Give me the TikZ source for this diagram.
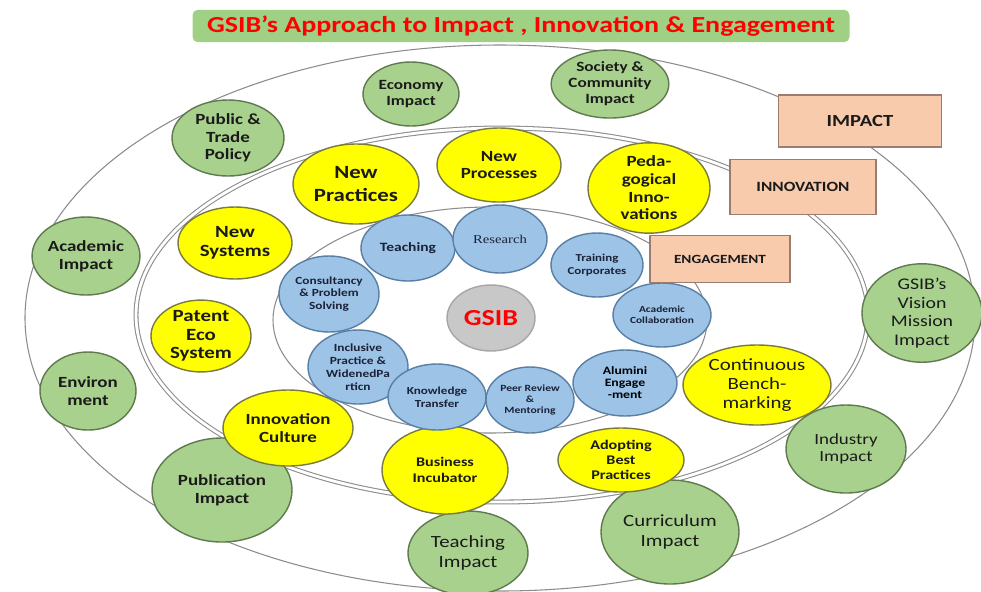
\documentclass[tikz,border=0pt]{standalone}
\usepackage{fontspec}
\setmainfont{Carlito}[FakeStretch=1.22]
\newfontfamily\serifFont{Liberation Serif}[FakeStretch=1.22]
\usetikzlibrary{shapes.geometric}

\definecolor{titleGreen}{HTML}{A0D083}
\definecolor{titleRed}{HTML}{FF0000}
\definecolor{impactFill}{HTML}{A9D18E}
\definecolor{impactLine}{HTML}{5F7A4E}
\definecolor{innoFill}{HTML}{FFFF00}
\definecolor{innoLine}{HTML}{7A7A40}
\definecolor{engFill}{HTML}{9DC3E6}
\definecolor{engLine}{HTML}{5A7FA5}
\definecolor{coreFill}{HTML}{C8C8C8}
\definecolor{coreLine}{HTML}{A6A6A6}
\definecolor{tagFill}{HTML}{F8CBAD}
\definecolor{tagLine}{HTML}{9C7C70}
\definecolor{ringGray}{HTML}{8C8C8C}
\definecolor{textDark}{HTML}{1A1A1A}
\definecolor{textNavy}{HTML}{1A2238}

\newcommand{\nodeFont}[2]{\fontsize{#1}{#2}\selectfont}

\tikzset{
    ring/.style={draw=ringGray,line width=0.6pt},
    bubble/.style 2 args={ellipse,inner sep=0pt,align=center,line width=0.8pt,
        minimum width=#1*0.567pt,minimum height=#2*0.567pt},
    impactNode/.style={draw=impactLine,fill=impactFill,text=textDark},
    innoNode/.style={draw=innoLine,fill=innoFill,text=textDark},
    engNode/.style={draw=engLine,fill=engFill,text=textNavy},
    tagBox/.style 2 args={rectangle,draw=tagLine,fill=tagFill,line width=0.8pt,text=textDark,
        minimum width=#1*0.567pt,minimum height=#2*0.567pt,font=\bfseries\nodeFont{8}{9}},
}

\begin{document}
\begin{tikzpicture}[x=0.567pt,y=-0.567pt]

        % -----------
        % Frame.
        % -----------
        \useasboundingbox[fill=white](0,0)rectangle(981,591);

        % Title bar.
        \node[rectangle,rounded corners=3pt,fill=titleGreen,minimum width=657*0.567pt,minimum height=32*0.567pt,
              text=titleRed,font=\bfseries\nodeFont{13}{14}](title)at(521,26){GSIB’s Approach to Impact , Innovation \& Engagement};

        % -----------
        % Rings.
        % -----------
        \draw[ring](500,318)ellipse[x radius=475,y radius=273];                                 % Impact ring.
        \draw[ring,double=white,double distance=1.6pt](502,315)ellipse[x radius=366,y radius=187]; % Innovation ring.
        \draw[ring](490,320)ellipse[x radius=217,y radius=113];                                 % Engagement ring.

        % -----------
        % Impact.
        % -----------
        \node[bubble={96}{64},impactNode,font=\bfseries\nodeFont{8}{9}](econImpact)at(411,94){Economy\\Impact};
        \node[bubble={114}{68},impactNode,font=\bfseries\nodeFont{8}{9}](societyImpact)at(610,84){Society \&\\Community\\Impact};
        \node[bubble={112}{76},impactNode,font=\bfseries\nodeFont{8.8}{9.8}](policyImpact)at(228,138){Public \&\\Trade\\Policy};
        \node[bubble={100}{78},impactNode,font=\bfseries\nodeFont{8.8}{10}](academicImpact)at(86,256){Academic\\Impact};
        \node[bubble={96}{78},impactNode,font=\bfseries\nodeFont{8.8}{10}](envImpact)at(88,391){Environ\\ment};
        \node[bubble={140}{104},impactNode,font=\bfseries\nodeFont{8.8}{10}](pubImpact)at(222,490){Publication\\Impact};
        \node[bubble={120}{84},impactNode,font=\nodeFont{9.7}{11}](teachImpact)at(468,553){Teaching\\Impact};
        \node[bubble={138}{104},impactNode,font=\nodeFont{9.7}{11}](currImpact)at(670,532){Curriculum\\Impact};
        \node[bubble={120}{88},impactNode,font=\nodeFont{8.8}{10}](industryImpact)at(846,449){Industry\\Impact};
        \node[bubble={120}{92},impactNode,font=\nodeFont{9.2}{10.5}](visionImpact)at(922,313){GSIB’s\\Vision\\Mission\\Impact};

        % -----------
        % Innovation.
        % -----------
        \node[bubble={126}{80},innoNode,font=\bfseries\nodeFont{10.6}{12.5}](newPractices)at(356,184){New\\Practices};
        \node[bubble={124}{74},innoNode,font=\bfseries\nodeFont{8.8}{10}](newProcesses)at(499,165){New\\Processes};
        \node[bubble={122}{78},innoNode,font=\bfseries\nodeFont{8.8}{10}](pedagogy)at(649,188){Peda-\\gogical\\Inno-\\vations};
        \node[bubble={114}{72},innoNode,font=\bfseries\nodeFont{9.7}{10.5}](newSystems)at(235,243){New\\Systems};
        \node[bubble={100}{70},innoNode,font=\bfseries\nodeFont{9.7}{10.5}](patentEco)at(201,336){Patent\\Eco\\System};
        \node[bubble={130}{76},innoNode,font=\bfseries\nodeFont{8.8}{10}](innoCulture)at(288,428){Innovation\\Culture};
        \node[bubble={126}{88},innoNode,font=\bfseries\nodeFont{7.5}{9}](incubator)at(445,470){Business\\Incubator};
        \node[bubble={126}{64},innoNode,font=\bfseries\nodeFont{7.5}{8.5}](bestPractices)at(621,460){Adopting\\Best\\Practices};
        \node[bubble={148}{80},innoNode,font=\nodeFont{9.7}{11}](benchmarking)at(757,385){Continuous\\Bench-\\marking};

        % -----------
        % Engagement.
        % -----------
        \node[bubble={94}{66},engNode,font=\bfseries\nodeFont{7.2}{8}](teaching)at(408,248){Teaching};
        \node[bubble={94}{68},engNode,font=\serifFont\nodeFont{6.8}{8}](research)at(500,239){Research};
        \node[bubble={92}{64},engNode,font=\bfseries\nodeFont{6}{7.2}](training)at(597,265){Training\\Corporates};
        \node[bubble={100}{76},engNode,font=\bfseries\nodeFont{6.2}{7.3}](consultancy)at(329,294){Consultancy\\\& Problem\\Solving};
        \node[bubble={98}{64},engNode,font=\bfseries\nodeFont{5.3}{6.3}](collaboration)at(662,315){Academic\\Collaboration};
        \node[bubble={100}{74},engNode,font=\bfseries\nodeFont{6.2}{7.3}](inclusive)at(358,367){Inclusive\\Practice \&\\WidenedPa\\rticn};
        \node[bubble={98}{66},engNode,font=\bfseries\nodeFont{6.1}{7.2}](knowledge)at(437,397){Knowledge\\Transfer};
        \node[bubble={88}{66},engNode,font=\bfseries\nodeFont{5.4}{6.2}](peerReview)at(530,400){Peer Review\\\&\\Mentoring};
        \node[bubble={104}{66},engNode,font=\bfseries\nodeFont{6.4}{6.8},text=black](alumni)at(625,383){Alumini\\Engage\\-ment};

        % Centre.
        \node[bubble={88}{66},draw=coreLine,fill=coreFill,text=titleRed,font=\bfseries\nodeFont{13}{14}](gsib)at(491,318){GSIB};

        % -----------
        % Ring tags.
        % -----------
        \node[tagBox={163}{52},font=\bfseries\nodeFont{9.6}{11}](impactTag)at(860,121){IMPACT};
        \node[tagBox={146}{55},font=\bfseries\nodeFont{8}{9}](innovationTag)at(803,187){INNOVATION};
        \node[tagBox={140}{47},font=\bfseries\nodeFont{7.1}{8}](engagementTag)at(720,259){ENGAGEMENT};

    \end{tikzpicture}
\end{document}
